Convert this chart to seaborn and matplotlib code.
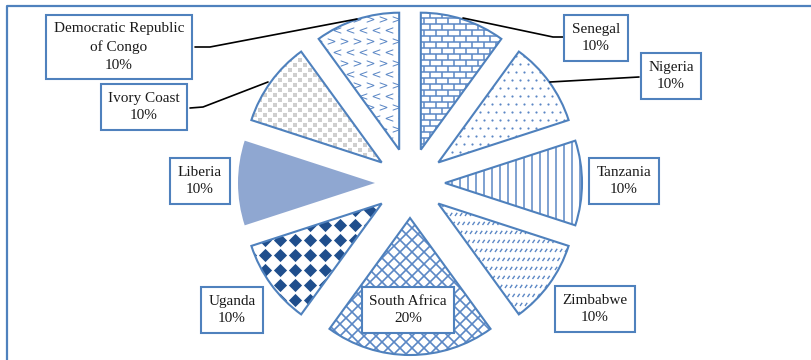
import numpy as np
import matplotlib.pyplot as plt
import seaborn as sns
from matplotlib.collections import LineCollection

# Chart data
countries = ['Senegal', 'Nigeria', 'Tanzania', 'Zimbabwe', 'South Africa',
             'Uganda', 'Liberia', 'Ivory Coast', 'Democratic Republic\nof Congo']
shares = [10, 10, 10, 10, 20, 10, 10, 10, 10]

# Label box centres (pixel coords, y measured from top)
label_x = [596, 671, 624, 595, 408, 232, 200, 144, 119]
label_y = [38, 76, 181, 309, 310, 310, 181, 107, 47]

W, H = 811, 360
EDGE = '#4F81BD'
PAT = '#5B87C5'


def fy(y):
    """Pixel row (from top) -> data y."""
    return H - np.asarray(y, dtype=float)


sns.set_theme(style='white')
plt.rcParams['font.family'] = ['Liberation Serif', 'DejaVu Serif']

fig = plt.figure(figsize=(W / 100, H / 100), dpi=100)
ax = fig.add_axes([0, 0, 1, 1])

wedges, _ = ax.pie(shares, radius=137, center=(410, float(fy(183))),
                   explode=[35] * len(shares), startangle=90, counterclock=False,
                   wedgeprops=dict(facecolor='none', edgecolor=EDGE, linewidth=1.5))
for w in wedges:
    w.set_zorder(3)
wedges[6].set_facecolor('#8FA7D1')
wedges[6].set_edgecolor('none')

X0, X1 = 220, 600


def lines_in(wedge, segs, color=PAT, lw=1.1):
    lc = LineCollection(segs, colors=color, linewidths=lw, zorder=1)
    ax.add_collection(lc)
    lc.set_clip_path(wedge)


def marks_in(wedge, xs, ys, lw=0, **kw):
    sc = ax.scatter(xs, ys, zorder=1, linewidths=lw, **kw)
    sc.set_clip_path(wedge)


# Senegal: bricks
segs = []
for k, y in enumerate(np.arange(0, H, 6)):
    segs.append([(X0, y), (X1, y)])
    for x in np.arange(X0 + (k % 2) * 6, X1, 12):
        segs.append([(x, y), (x, y + 6)])
lines_in(wedges[0], segs)

# Nigeria: small dots
gx, gy = [], []
for k, y in enumerate(np.arange(0, H, 8)):
    for x in np.arange(X0 + (k % 2) * 4, X1, 8):
        gx.append(x); gy.append(y)
marks_in(wedges[1], gx, gy, s=2.5, color=PAT)

# Tanzania: vertical lines
lines_in(wedges[2], [[(x, 0), (x, H)] for x in np.arange(X0, X1, 8)])

# Zimbabwe: short diagonal dashes
segs = []
for k, y in enumerate(np.arange(0, H, 9)):
    for x in np.arange(X0 + (k % 2) * 2.5, X1, 5):
        segs.append([(x, y), (x + 2.2, y + 3.2)])
lines_in(wedges[3], segs, lw=1.0)

# South Africa: diagonal cross hatch
segs = []
for c in np.arange(X0 - H, X1, 12):
    segs.append([(c, 0), (c + H, H)])
    segs.append([(c, H), (c + H, 0)])
lines_in(wedges[4], segs, lw=1.2)

# Uganda: solid diamonds
gx, gy = np.meshgrid(np.arange(X0, X1, 15), np.arange(0, H, 15))
marks_in(wedges[5], gx.ravel(), gy.ravel(), s=45, marker='D', color='#1F4E8C')

# Ivory Coast: grey speckle
gx, gy = [], []
for k, y in enumerate(np.arange(0, H, 5)):
    for x in np.arange(X0 + (k % 2) * 5, X1, 10):
        gx.append(x); gy.append(y)
marks_in(wedges[7], gx, gy, s=6, marker='s', color='#CFCFCF')

# DRC: chevrons
for k, y in enumerate(np.arange(0, H, 11)):
    xs = np.arange(X0 + (k % 2) * 6.5, X1, 13)
    marks_in(wedges[8], xs, np.full(len(xs), y), s=30,
             marker='$>$' if k % 2 else '$<$', color=PAT)

# Label boxes
for name, share, lx, ly in zip(countries, shares, label_x, label_y):
    ax.text(lx, fy(ly), f'{name}\n{share}%', ha='center', va='center',
            fontsize=11, color='#1A1A1A', zorder=5, linespacing=1.45,
            bbox=dict(boxstyle='square,pad=0.5', fc='white', ec=EDGE, lw=1.5))

# Leader lines
leaders = [
    ([195, 210, 357], [47, 47, 19]),
    ([190, 203, 268], [108, 107, 82]),
    ([463, 553, 563], [18, 37, 37]),
    ([550, 639], [82, 77]),
]
for xs, ys in leaders:
    ax.plot(xs, fy(ys), color='black', lw=1.2, zorder=4)

# Outer frame (only top and left visible in the crop)
ax.plot([6.5, 6.5, W + 5], fy([H + 5, 5.5, 5.5]), color=EDGE, lw=1.6,
        clip_on=False, zorder=6)

ax.set_xlim(0, W)
ax.set_ylim(0, H)
ax.set_aspect('equal')
ax.axis('off')

fig.savefig('out.png', dpi=100)
